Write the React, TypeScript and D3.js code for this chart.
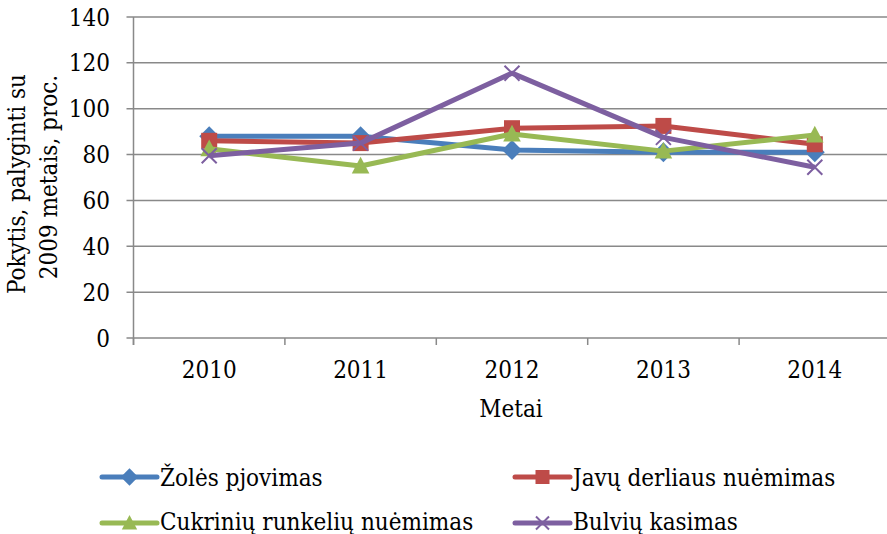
import React from "react";
import * as d3 from "d3";

const years = ["2010", "2011", "2012", "2013", "2014"];
const yTicks = [0, 20, 40, 60, 80, 100, 120, 140];
const zoles = [88, 88, 82, 81, 81];
const javu = [86, 85, 91.5, 92.5, 84.5];
const cukriniu = [82.5, 75, 89, 81.5, 88.5];
const bulviu = [79.5, 85, 115.5, 87.5, 74.5];
const seriesNames = ["Žolės pjovimas", "Javų derliaus nuėmimas", "Cukrinių runkelių nuėmimas", "Bulvių kasimas"];
const seriesColors = ["#4A7EBB", "#BE4B48", "#98B954", "#7D5FA0"];
const seriesMarkers = ["diamond", "square", "triangle", "x"];

const W = 887, H = 534;
const left = 133.5, right = 890.5, top = 17, bottom = 338;
const txt: React.CSSProperties = {
  fontFamily: '"DejaVu Serif Condensed", "DejaVu Serif", serif',
  fontStretch: "condensed",
  fontSize: 24,
};

function Marker({ type, x, y, color, s }: { type: string; x: number; y: number; color: string; s: number }) {
  if (type === "diamond") {
    const r = s * 0.62;
    return <path d={`M${x},${y - r}L${x + r},${y}L${x},${y + r}L${x - r},${y}Z`} fill={color} />;
  }
  if (type === "square") {
    const r = s * 0.5;
    return <rect x={x - r} y={y - r} width={2 * r} height={2 * r} fill={color} />;
  }
  if (type === "triangle") {
    const r = s * 0.55;
    return <path d={`M${x},${y - r * 1.05}L${x + r},${y + r * 0.85}L${x - r},${y + r * 0.85}Z`} fill={color} />;
  }
  const r = s * 0.5;
  return (
    <path d={`M${x - r},${y - r}L${x + r},${y + r}M${x - r},${y + r}L${x + r},${y - r}`} stroke={color} strokeWidth={2} fill="none" />
  );
}

export default function App() {
  const x = d3.scaleBand<string>().domain(years).range([left, right]);
  const y = d3.scaleLinear().domain([0, 140]).range([bottom, top]);
  const data = [zoles, javu, cukriniu, bulviu];
  const line = d3
    .line<number>()
    .x((_, i) => (x(years[i]) as number) + x.bandwidth() / 2)
    .y((d) => y(d));
  const legendPos = [
    { lx: 102, ly: 477, by: 486 },
    { lx: 515, ly: 477, by: 486 },
    { lx: 102, ly: 523, by: 530 },
    { lx: 515, ly: 523, by: 530 },
  ];
  return (
    <svg width={W} height={H} style={{ position: "absolute", left: 0, top: 0, background: "#fff" }}>
      {yTicks.map((t) => (
        <g key={t}>
          <line x1={left - 7} x2={right} y1={y(t)} y2={y(t)} stroke="#898989" strokeWidth={1.5} />
          <text x={110} y={y(t)} dy="0.36em" textAnchor="end" style={txt} fill="#000">
            {t}
          </text>
        </g>
      ))}
      <line x1={left} x2={left} y1={top} y2={bottom + 7} stroke="#898989" strokeWidth={1.5} />
      {years.map((yr) => (
        <g key={yr}>
          <line x1={x(yr) as number} x2={x(yr) as number} y1={bottom} y2={bottom + 7} stroke="#898989" strokeWidth={1.5} />
          <text x={(x(yr) as number) + x.bandwidth() / 2} y={378} textAnchor="middle" style={txt} fill="#000">
            {yr}
          </text>
        </g>
      ))}
      <text x={511} y={417} textAnchor="middle" style={txt} fill="#000">
        Metai
      </text>
      <text transform={`translate(25,184) rotate(-90)`} textAnchor="middle" style={txt} fill="#000">
        Pokytis, palyginti su
      </text>
      <text transform={`translate(57,177) rotate(-90)`} textAnchor="middle" style={txt} fill="#000">
        2009 metais, proc.
      </text>
      {data.map((vals, si) => (
        <g key={si}>
          <path d={line(vals) || ""} fill="none" stroke={seriesColors[si]} strokeWidth={5} strokeLinejoin="round" />
          {vals.map((v, i) => (
            <Marker
              key={i}
              type={seriesMarkers[si]}
              x={(x(years[i]) as number) + x.bandwidth() / 2}
              y={y(v)}
              color={seriesColors[si]}
              s={seriesMarkers[si] === "x" ? 15 : 16}
            />
          ))}
        </g>
      ))}
      {seriesNames.map((n, si) => {
        const p = legendPos[si];
        return (
          <g key={n}>
            <line x1={p.lx} x2={p.lx + 55} y1={p.ly} y2={p.ly} stroke={seriesColors[si]} strokeWidth={5} strokeLinecap="round" />
            <Marker type={seriesMarkers[si]} x={p.lx + 27.5} y={p.ly} color={seriesColors[si]} s={seriesMarkers[si] === "x" ? 13 : 14} />
            <text x={p.lx + 58} y={p.by} style={txt} fill="#000">
              {n}
            </text>
          </g>
        );
      })}
    </svg>
  );
}
